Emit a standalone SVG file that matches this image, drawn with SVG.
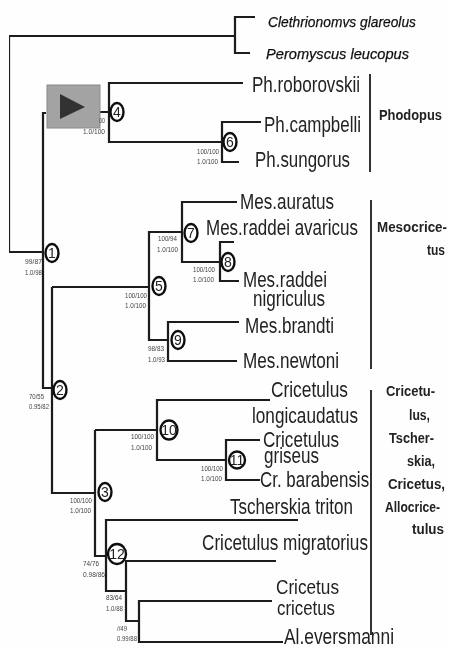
<svg xmlns="http://www.w3.org/2000/svg" width="449" height="649" viewBox="0 0 449 649">
<defs><filter id="soft" x="0" y="0" width="100%" height="100%"><feGaussianBlur stdDeviation="0.45"/></filter></defs>
<style>
text{font-family:"Liberation Sans",Arial,sans-serif;fill:#222}
.t{font-size:22px}
.t2{font-size:20.5px}
.o{font-size:15.5px;font-style:italic;fill:#111;stroke:#111;stroke-width:.25}
.g{font-size:14px;font-weight:bold}
.s{font-size:7.5px;fill:#444}
.n{font-size:14px;text-anchor:middle}
.c{fill:#fff;stroke:#111;stroke-width:2.4}
#connectors path{fill:none;stroke:#1a1a1a;stroke-width:2.2;stroke-linejoin:miter}
#connectors path.b{stroke:#333;stroke-width:2}
</style>
<rect width="449" height="649" fill="#fefefe"/>
<g filter="url(#soft)">
<g id="connectors">
<path d="M9 252V36H235M255 17H235V53H250"/>
<path d="M9 252H44M46 113H43V388H52M52 287V493H95"/>
<path d="M100 112H109M243 83H109V142H222M261 122H222V162H239"/>
<path d="M52 287H149M237 202H182V262H220M234 242H220V281H239M182 232H149V340H168M239 322H168V361H237"/>
<path d="M95 430V556H106M95 430H157M270 400H157V460H226M260 440H226V480H260"/>
<path d="M298 520H106V591H126M276 561H126V621H139M272 601H139V642H283"/>
<path class="b" d="M370 74V172M371 200V369M371 390V635"/>
</g>
<g id="outgroup">
<text class="o" x="268" y="27" textLength="148" lengthAdjust="spacingAndGlyphs">Clethrionomvs glareolus</text>
<text class="o" x="266" y="59" textLength="143" lengthAdjust="spacingAndGlyphs">Peromyscus leucopus</text>
</g>
<g id="play-button">
<rect x="47" y="85" width="53" height="43" fill="#a3a3a3" stroke="#8a8a8a"/>
<path d="M60 94V119L85 107Z" fill="#333"/>
</g>
<g id="taxa">
<text class="t" x="252" y="92" textLength="108" lengthAdjust="spacingAndGlyphs">Ph.roborovskii</text>
<text class="t" transform="translate(264 132) scale(.77 1)">Ph.campbelli</text>
<text class="t" x="255" y="167" textLength="95" lengthAdjust="spacingAndGlyphs">Ph.sungorus</text>
<text class="t" x="240" y="209" textLength="94" lengthAdjust="spacingAndGlyphs">Mes.auratus</text>
<text class="t" transform="translate(206 235) scale(.772 1)">Mes.raddei avaricus</text>
<text class="t" x="243" y="287" textLength="84" lengthAdjust="spacingAndGlyphs">Mes.raddei</text>
<text class="t" x="253" y="306" textLength="72" lengthAdjust="spacingAndGlyphs">nigriculus</text>
<text class="t" x="245" y="333" textLength="89" lengthAdjust="spacingAndGlyphs">Mes.brandti</text>
<text class="t" x="243" y="368" textLength="96" lengthAdjust="spacingAndGlyphs">Mes.newtoni</text>
<text class="t" x="271" y="397" textLength="77" lengthAdjust="spacingAndGlyphs">Cricetulus</text>
<text class="t" x="252" y="423" textLength="106" lengthAdjust="spacingAndGlyphs">longicaudatus</text>
<text class="t" x="263" y="447" textLength="76" lengthAdjust="spacingAndGlyphs">Cricetulus</text>
<text class="t" x="264" y="463" textLength="55" lengthAdjust="spacingAndGlyphs">griseus</text>
<text class="t" transform="translate(260 487) scale(.769 1)">Cr. barabensis</text>
<text class="t" x="230" y="514" textLength="123" lengthAdjust="spacingAndGlyphs">Tscherskia triton</text>
<text class="t" x="202" y="550" textLength="166" lengthAdjust="spacingAndGlyphs">Cricetulus migratorius</text>
<text class="t2" x="276" y="594" textLength="63" lengthAdjust="spacingAndGlyphs">Cricetus</text>
<text class="t2" x="277" y="615" textLength="58" lengthAdjust="spacingAndGlyphs">cricetus</text>
<text class="t" x="284" y="644" textLength="110" lengthAdjust="spacingAndGlyphs">Al.eversmanni</text>
</g>
<g id="groups">
<text class="g" x="379" y="120" textLength="63" lengthAdjust="spacingAndGlyphs">Phodopus</text>
<text class="g" x="377" y="232" textLength="70" lengthAdjust="spacingAndGlyphs">Mesocrice-</text>
<text class="g" x="427" y="255" textLength="18" lengthAdjust="spacingAndGlyphs">tus</text>
<text class="g" x="386" y="396" textLength="49" lengthAdjust="spacingAndGlyphs">Cricetu-</text>
<text class="g" x="409" y="420" textLength="21" lengthAdjust="spacingAndGlyphs">lus,</text>
<text class="g" x="389" y="443" textLength="45" lengthAdjust="spacingAndGlyphs">Tscher-</text>
<text class="g" x="407" y="466" textLength="28" lengthAdjust="spacingAndGlyphs">skia,</text>
<text class="g" x="388" y="489" textLength="57" lengthAdjust="spacingAndGlyphs">Cricetus,</text>
<text class="g" x="385" y="512" textLength="55" lengthAdjust="spacingAndGlyphs">Allocrice-</text>
<text class="g" x="412" y="534" textLength="32" lengthAdjust="spacingAndGlyphs">tulus</text>
</g>
<g id="support">
<text class="s" x="99" y="123" textLength="6" lengthAdjust="spacingAndGlyphs">00</text>
<text class="s" x="83" y="134" textLength="22" lengthAdjust="spacingAndGlyphs">1.0/100</text>
<text class="s" x="197" y="154" textLength="22" lengthAdjust="spacingAndGlyphs">100/100</text>
<text class="s" x="197" y="164" textLength="21" lengthAdjust="spacingAndGlyphs">1.0/100</text>
<text class="s" x="25" y="264" textLength="17" lengthAdjust="spacingAndGlyphs">99/87</text>
<text class="s" x="25" y="275" textLength="17" lengthAdjust="spacingAndGlyphs">1.0/98</text>
<text class="s" x="125" y="298" textLength="22" lengthAdjust="spacingAndGlyphs">100/100</text>
<text class="s" x="125" y="308" textLength="21" lengthAdjust="spacingAndGlyphs">1.0/100</text>
<text class="s" x="158" y="241" textLength="19" lengthAdjust="spacingAndGlyphs">100/94</text>
<text class="s" x="157" y="252" textLength="21" lengthAdjust="spacingAndGlyphs">1.0/100</text>
<text class="s" x="193" y="272" textLength="22" lengthAdjust="spacingAndGlyphs">100/100</text>
<text class="s" x="193" y="282" textLength="21" lengthAdjust="spacingAndGlyphs">1.0/100</text>
<text class="s" x="148" y="351" textLength="16" lengthAdjust="spacingAndGlyphs">98/83</text>
<text class="s" x="148" y="362" textLength="17" lengthAdjust="spacingAndGlyphs">1.0/93</text>
<text class="s" x="29" y="399" textLength="15" lengthAdjust="spacingAndGlyphs">70/55</text>
<text class="s" x="29" y="409" textLength="20" lengthAdjust="spacingAndGlyphs">0.95/82</text>
<text class="s" x="131" y="439" textLength="23" lengthAdjust="spacingAndGlyphs">100/100</text>
<text class="s" x="131" y="450" textLength="21" lengthAdjust="spacingAndGlyphs">1.0/100</text>
<text class="s" x="201" y="471" textLength="22" lengthAdjust="spacingAndGlyphs">100/100</text>
<text class="s" x="201" y="481" textLength="21" lengthAdjust="spacingAndGlyphs">1.0/100</text>
<text class="s" x="70" y="503" textLength="22" lengthAdjust="spacingAndGlyphs">100/100</text>
<text class="s" x="70" y="513" textLength="21" lengthAdjust="spacingAndGlyphs">1.0/100</text>
<text class="s" x="83" y="566" textLength="16" lengthAdjust="spacingAndGlyphs">74/76</text>
<text class="s" x="83" y="577" textLength="22" lengthAdjust="spacingAndGlyphs">0.98/86</text>
<text class="s" x="106" y="600" textLength="16" lengthAdjust="spacingAndGlyphs">83/64</text>
<text class="s" x="106" y="611" textLength="17" lengthAdjust="spacingAndGlyphs">1.0/88</text>
<text class="s" x="117" y="631" textLength="10" lengthAdjust="spacingAndGlyphs">//49</text>
<text class="s" x="117" y="641" textLength="20" lengthAdjust="spacingAndGlyphs">0.99/88</text>
</g>
<g id="node-1"><ellipse class="c" cx="52" cy="253" rx="6.5" ry="9"/><text class="n" x="52" y="258">1</text></g>
<g id="node-2"><ellipse class="c" cx="60" cy="390" rx="6.5" ry="9"/><text class="n" x="60" y="395">2</text></g>
<g id="node-3"><ellipse class="c" cx="105" cy="492" rx="6.5" ry="9"/><text class="n" x="105" y="497">3</text></g>
<g id="node-4"><ellipse class="c" cx="117" cy="112" rx="6.5" ry="9"/><text class="n" x="117" y="117">4</text></g>
<g id="node-5"><ellipse class="c" cx="159" cy="286" rx="6.5" ry="9"/><text class="n" x="159" y="291">5</text></g>
<g id="node-6"><ellipse class="c" cx="230" cy="142" rx="6.5" ry="9"/><text class="n" x="230" y="147">6</text></g>
<g id="node-7"><ellipse class="c" cx="191" cy="233" rx="6.5" ry="9"/><text class="n" x="191" y="238">7</text></g>
<g id="node-8"><ellipse class="c" cx="228" cy="262" rx="6.5" ry="9"/><text class="n" x="228" y="267">8</text></g>
<g id="node-9"><ellipse class="c" cx="178" cy="340" rx="6.5" ry="9"/><text class="n" x="178" y="345">9</text></g>
<g id="node-10"><ellipse class="c" cx="169" cy="430" rx="8.5" ry="9.5"/><text class="n" x="169" y="435">10</text></g>
<g id="node-11"><ellipse class="c" cx="237" cy="460" rx="8" ry="8.5"/><text class="n" x="237" y="465">11</text></g>
<g id="node-12"><ellipse class="c" cx="117" cy="554" rx="9" ry="10"/><text class="n" x="117" y="559">12</text></g>
</g>
</svg>
